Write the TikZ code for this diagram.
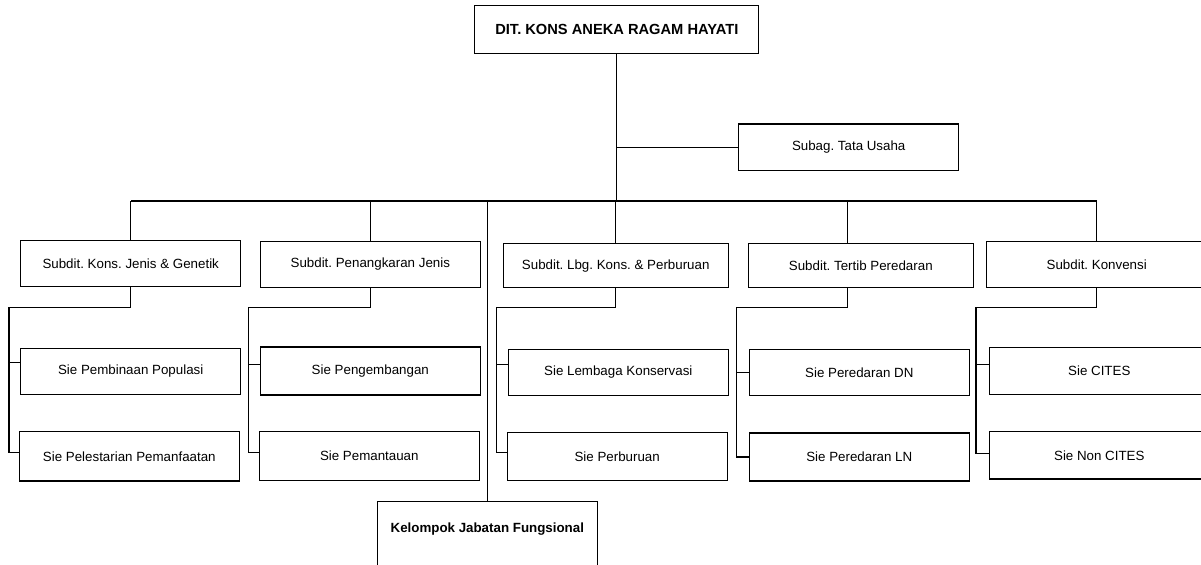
\documentclass[tikz,border=0pt]{standalone}
\usepackage{fontspec}
\setmainfont{Liberation Sans}
\frenchspacing
\usetikzlibrary{calc}
\tikzset{
  unit/.style={draw, minimum width=165pt, minimum height=34.5pt, inner sep=0pt,
    font=\fontsize{10}{12}\selectfont},
  wideunit/.style={unit, minimum width=169pt, minimum height=33pt},
  headunit/.style={unit, minimum width=212.8pt, minimum height=36pt,
    font=\fontsize{11}{13}\selectfont\bfseries},
}
\begin{document}
\begin{tikzpicture}[x=0.75pt, y=-0.75pt, line width=0.8pt]
  \useasboundingbox (0,0) rectangle (1201,564);
  \clip (0,0) rectangle (1201,564);
  % head and staff
  \node[headunit] (dir) at (616.8,29.3) {DIT. KONS ANEKA RAGAM HAYATI};
  \node[unit, minimum height=35pt] (tu) at (848.7,147.3) {Subag. Tata Usaha};
  % subdirectorates
  \node[unit] (s1) at (130.7,263.8) {Subdit. Kons. Jenis \& Genetik};
  \node[unit] (s2) at (370.3,264.3) {Subdit. Penangkaran Jenis};
  \node[wideunit] (s3) at (615.7,265.7) {Subdit. Lbg. Kons. \& Perburuan};
  \node[wideunit] (s4) at (860.8,265.7) {Subdit. Tertib Peredaran};
  \node[unit] (s5) at (1096.7,264.5) {Subdit. Konvensi};
  % sections
  \node[unit] (a1) at (130.7,371.2) {Sie Pembinaan Populasi};
  \node[unit, minimum height=37pt] (b1) at (129.3,456.3) {Sie Pelestarian Pemanfaatan};
  \node[unit, minimum height=36pt] (a2) at (370.3,371) {Sie Pengembangan};
  \node[unit, minimum height=36.5pt] (b2) at (369.3,456.2) {Sie Pemantauan};
  \node[unit] (a3) at (618.3,372.3) {Sie Lembaga Konservasi};
  \node[unit, minimum height=36pt] (b3) at (617.2,456.7) {Sie Perburuan};
  \node[unit] (a4) at (859.3,372.3) {Sie Peredaran DN};
  \node[unit, minimum height=36pt] (b4) at (859.3,457) {Sie Peredaran LN};
  \node[unit, minimum height=35.5pt] (a5) at (1099.3,371.2) {Sie CITES};
  \node[unit, minimum height=35.5pt] (b5) at (1099.3,455.3) {Sie Non CITES};
  % functional group
  \node[unit, anchor=north, inner ysep=0pt, text height=23.1pt, text depth=45pt,
    font=\fontsize{10}{12}\selectfont\bfseries] (fg) at (487.3,501) {Kelompok Jabatan Fungsional};
  % bus
  \coordinate (busL) at (131,201);
  \coordinate (busR) at (1096.7,201);
  \coordinate (d4) at (847.7,201);
  \coordinate (sp1) at (9,307.7);
  \coordinate (sp2) at (248.3,307.7);
  \coordinate (sp3) at (496.3,307.7);
  \coordinate (sp4) at (736.3,307.7);
  \coordinate (sp5) at (976,307.7);
  \draw (dir.south) -- (dir.south |- busL);
  \draw (dir.south |- tu.west) -- (tu.west);
  \draw (busL) -- (busR);
  \draw (s1.north |- busL) -- (s1.north);
  \draw (s2.north |- busL) -- (s2.north);
  \draw (s3.north |- busL) -- (s3.north);
  \draw (d4) -- (d4 |- s4.north);
  \draw (s5.north |- busL) -- (s5.north);
  \draw (fg.north |- busL) -- (fg.north);
  % section trees
  \draw (s1.south) |- (sp1) |- ($(b1.west)+(0,-4)$);
  \draw (sp1) |- ($(a1.west)+(0,-9)$);
  \draw (s2.south) |- (sp2) |- ($(b2.west)+(0,-4)$);
  \draw (sp2) |- ($(a2.west)+(0,-6.7)$);
  \draw (s3.south) |- (sp3) |- ($(b3.west)+(0,-4.4)$);
  \draw (sp3) |- ($(a3.west)+(0,-8)$);
  \draw (d4 |- s4.south) |- (sp4) |- (b4.west);
  \draw (sp4) |- (a4.west);
  \draw (s5.south) |- (sp5) |- ($(b5.west)+(0,-2)$);
  \draw (sp5) |- ($(a5.west)+(0,-7)$);
\end{tikzpicture}
\end{document}
